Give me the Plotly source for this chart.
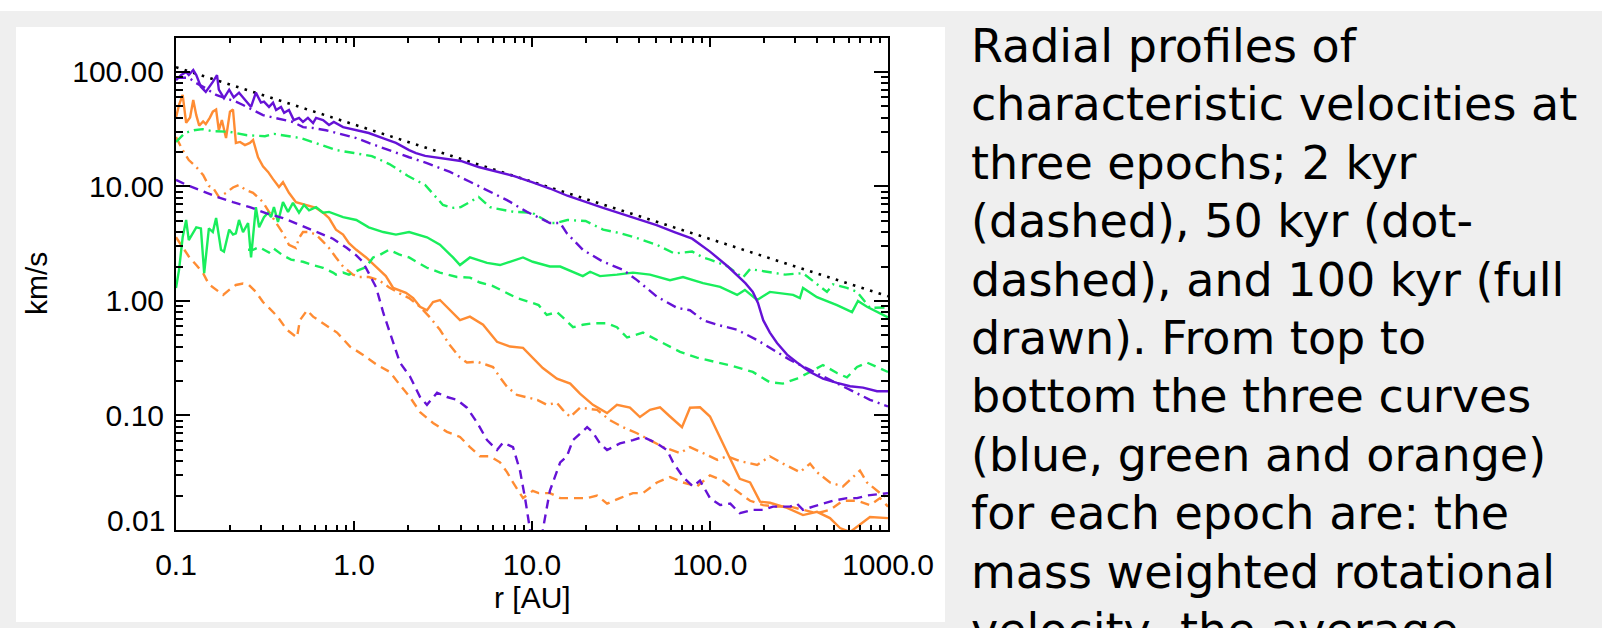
import plotly.graph_objects as go

# ---------------- data ----------------
# radius r [AU] and velocity v [km/s] for every curve
kepler_r = [0.1, 1.0, 10.0, 100.0, 1000.0]
kepler_v = [110.0, 34.8, 11.0, 3.48, 1.1]

# blue (purple) : mass weighted rotational velocity
rot100_r = [0.1, 0.107, 0.114, 0.118, 0.125, 0.130, 0.138, 0.147, 0.161, 0.170, 0.174, 0.186,
            0.199, 0.211, 0.226, 0.238, 0.247, 0.264, 0.281, 0.300, 0.312, 0.333, 0.351, 0.365,
            0.389, 0.405, 0.431, 0.459, 0.491, 0.517, 0.551, 0.589, 0.612, 0.670, 0.724, 0.770,
            0.868, 1.03, 1.21, 1.45, 1.72, 2.04, 2.23, 2.51, 3.16, 3.98, 5.01, 6.31, 7.94, 10.0,
            12.6, 15.8, 20.0, 25.1, 31.6, 39.8, 50.1, 63.1, 79.4, 100.0, 126.0, 158.0, 174.0,
            186.0, 199.0, 217.0, 238.0, 271.0, 308.0, 365.0, 431.0, 517.0, 612.0, 724.0, 868.0, 1000.0]
rot100_v = [85, 94, 100, 94, 104, 94, 74, 67, 82, 94, 70, 59,
            70, 60, 66, 60, 57, 49.5, 66, 54, 55, 49.5, 54, 46.6,
            49.5, 44, 46.6, 38, 39.7, 36.6, 39.7, 35.8, 39.7, 38, 34.4, 36.6,
            33, 31, 29.3, 26.5, 24, 20.8, 19.6, 18.5, 17.7, 16.7, 14.8, 13.4, 12.3, 10.9,
            9.6, 8.3, 7.3, 6.5, 5.8, 5.2, 4.6, 4.0, 3.5, 2.7, 2.0, 1.43, 1.2,
            0.96, 0.68, 0.53, 0.43, 0.34, 0.29, 0.24, 0.21, 0.193, 0.18, 0.175, 0.163, 0.163]

rot50_r = [0.1, 0.118, 0.130, 0.147, 0.168, 0.191, 0.217, 0.238, 0.271, 0.308, 0.351, 0.399,
           0.454, 0.517, 0.589, 0.696, 0.868, 1.03, 1.21, 1.45, 1.72, 2.04, 2.57, 3.46, 4.48,
           5.59, 7.24, 9.37, 12.6, 14.4, 15.7, 19.3, 25.1, 32.5, 38.9, 50.4, 65.3, 77.2, 91.4,
           110.0, 142.0, 184.0, 226.0, 282.0, 365.0, 472.0, 612.0, 792.0, 1000.0]
rot50_v = [89, 89, 80, 72, 63, 59, 55, 51.5, 46.6, 42, 40, 38,
           36.6, 33, 32.4, 31, 28.2, 26.5, 24, 21.7, 19.6, 18, 16, 13.4, 11,
           9.3, 7.6, 6.0, 4.8, 4.8, 3.9, 2.8, 2.2, 1.87, 1.52, 1.09, 0.87, 0.83, 0.68,
           0.62, 0.56, 0.456, 0.373, 0.305, 0.25, 0.204, 0.167, 0.137, 0.12]

rot2_r = [0.1, 0.115, 0.136, 0.170, 0.209, 0.260, 0.325, 0.399, 0.497, 0.620, 0.762, 0.913,
          1.03, 1.12, 1.21, 1.33, 1.46, 1.59, 1.81, 2.06, 2.35, 2.57, 2.93, 3.33, 3.79, 4.31,
          4.91, 5.59, 6.36, 6.87, 7.82, 8.56, 9.14, 9.75, 10.5, 11.5, 12.6, 14.4, 15.7, 17.0,
          20.4, 22.0, 24.1, 26.4, 31.2, 36.9, 42.0, 50.4, 57.3, 62.0, 70.5, 80.3, 87.9, 100.0,
          114.0, 130.0, 147.0, 174.0, 199.0, 226.0, 282.0, 308.0, 333.0, 379.0, 431.0, 491.0,
          588.0, 670.0, 762.0, 1000.0]
rot2_v = [11.4, 10.3, 9.3, 8.1, 7.3, 6.6, 5.8, 5.3, 4.6, 4.0, 3.5, 2.9,
          2.5, 2.2, 1.75, 1.32, 0.79, 0.53, 0.29, 0.22, 0.145, 0.124, 0.158, 0.145, 0.137, 0.117,
          0.087, 0.061, 0.050, 0.058, 0.053, 0.033, 0.019, 0.010, 0.006, 0.010, 0.022, 0.039, 0.044, 0.061,
          0.079, 0.071, 0.057, 0.050, 0.057, 0.061, 0.065, 0.057, 0.050, 0.039, 0.029, 0.024, 0.027, 0.019,
          0.0165, 0.017, 0.014, 0.015, 0.015, 0.016, 0.016, 0.017, 0.015, 0.016, 0.017, 0.018,
          0.019, 0.019, 0.020, 0.021]

# green : second characteristic velocity
grn100_r = [0.1, 0.104, 0.109, 0.114, 0.118, 0.125, 0.130, 0.138, 0.144, 0.153, 0.161, 0.168,
            0.179, 0.186, 0.199, 0.209, 0.217, 0.226, 0.238, 0.254, 0.264, 0.281, 0.293, 0.312,
            0.329, 0.342, 0.355, 0.374, 0.399, 0.426, 0.454, 0.491, 0.524, 0.559, 0.612, 0.670,
            0.724, 0.868, 1.03, 1.21, 1.46, 1.72, 2.04, 2.57, 3.04, 3.60, 3.94, 4.48, 5.59, 6.61,
            7.52, 8.90, 10.1, 12.6, 14.4, 17.0, 19.3, 21.2, 24.1, 30.0, 36.9, 46.0, 59.6, 70.5,
            91.4, 114.0, 142.0, 157.0, 184.0, 217.0, 293.0, 320.0, 333.0, 399.0, 517.0, 628.0,
            678.0, 762.0, 1000.0]
grn100_v = [1.3, 1.87, 3.6, 5.1, 3.4, 4.0, 4.4, 4.3, 1.75, 4.3, 4.0, 5.3,
            2.8, 2.7, 4.2, 3.8, 3.9, 5.1, 4.0, 4.8, 2.4, 6.6, 4.4, 5.4,
            5.9, 5.4, 6.6, 4.9, 7.3, 6.0, 7.2, 5.9, 6.9, 6.2, 6.6, 5.9,
            6.0, 5.4, 5.1, 4.4, 4.0, 3.8, 4.0, 3.6, 3.1, 2.4, 2.06, 2.4, 2.15, 2.06,
            2.2, 2.4, 2.2, 2.0, 2.0, 1.8, 1.65, 1.8, 1.65, 1.7, 1.77, 1.7, 1.52, 1.62,
            1.43, 1.33, 1.13, 1.25, 1.02, 1.2, 1.13, 1.06, 1.3, 1.08, 0.92, 0.80,
            1.0, 0.89, 0.72]

grn50_r = [0.1, 0.112, 0.126, 0.141, 0.158, 0.2, 0.251, 0.316, 0.355, 0.447, 0.501, 0.631,
           0.794, 1.0, 1.26, 1.58, 2.0, 2.51, 3.16, 3.55, 3.98, 4.66, 5.01, 5.81, 6.31, 7.94,
           10.0, 12.6, 13.6, 15.8, 20.0, 25.1, 31.6, 39.8, 50.1, 63.1, 79.4, 91.4, 100.0, 126.0,
           153.0, 168.0, 209.0, 264.0, 333.0, 399.0, 454.0, 491.0, 588.0, 670.0, 792.0, 1000.0]
grn50_v = [24.5, 29.3, 31, 31.7, 30.5, 30, 28, 27.5, 28.8, 27, 26.5, 23.5,
           20.8, 19.6, 18.4, 15.7, 12.4, 10.3, 6.9, 6.5, 6.6, 7.6, 8.1, 6.6, 6.4, 6.0,
           5.9, 4.8, 4.8, 5.1, 5.0, 4.2, 3.9, 3.5, 3.1, 2.6, 2.7, 2.4, 2.3, 2.0,
           1.6, 1.9, 1.8, 1.7, 1.75, 1.4, 1.2, 1.4, 1.3, 1.2, 0.87, 0.88]

grn2_r = [0.254, 0.271, 0.293, 0.333, 0.351, 0.399, 0.443, 0.517, 0.589, 0.670, 0.762, 0.792,
          0.868, 0.937, 1.07, 1.17, 1.28, 1.38, 1.57, 1.79, 2.04, 2.57, 3.04, 3.79, 4.48, 5.10,
          6.04, 7.24, 8.24, 10.1, 10.9, 12.1, 13.8, 14.9, 17.0, 19.3, 22.0, 26.4, 30.0, 34.2,
          42.0, 50.4, 57.3, 67.9, 84.5, 110.0, 135.0, 174.0, 217.0, 257.0, 308.0, 365.0, 431.0,
          517.0, 588.0, 670.0, 762.0, 1000.0]
grn2_v = [2.8, 2.8, 2.95, 2.65, 2.9, 2.5, 2.3, 2.2, 2.06, 1.95, 1.77, 1.7,
          1.77, 1.7, 1.87, 1.98, 2.4, 2.5, 2.8, 2.55, 2.4, 1.95, 1.77, 1.62, 1.6, 1.45,
          1.35, 1.17, 1.06, 0.96, 0.92, 0.755, 0.80, 0.72, 0.59, 0.62, 0.64, 0.64, 0.59, 0.48,
          0.53, 0.456, 0.41, 0.36, 0.32, 0.29, 0.27, 0.24, 0.195, 0.19, 0.21, 0.24, 0.276,
          0.235, 0.215, 0.265, 0.29, 0.24]

# orange : third characteristic velocity
org100_r = [0.1, 0.104, 0.109, 0.114, 0.120, 0.125, 0.130, 0.135, 0.142, 0.147, 0.155, 0.161,
            0.168, 0.174, 0.181, 0.191, 0.201, 0.209, 0.217, 0.229, 0.244, 0.260, 0.271, 0.289,
            0.308, 0.329, 0.351, 0.379, 0.399, 0.431, 0.472, 0.537, 0.612, 0.670, 0.724, 0.792,
            0.868, 0.937, 1.03, 1.17, 1.33, 1.51, 1.66, 1.79, 1.96, 2.15, 2.35, 2.57, 2.78, 3.04,
            3.33, 3.94, 4.48, 5.31, 6.36, 7.52, 8.90, 10.1, 11.5, 13.8, 16.4, 18.6, 22.0, 26.4,
            30.0, 35.5, 40.4, 46.0, 52.4, 59.6, 69.6, 77.2, 87.9, 100.0, 114.0, 130.0, 147.0,
            168.0, 191.0, 217.0, 271.0, 333.0, 399.0, 472.0, 538.0, 612.0, 696.0, 792.0, 1000.0]
org100_v = [40, 51.5, 63, 36, 40, 57, 42, 34, 37, 35, 40, 45,
            47, 31, 38, 26.5, 45, 47, 24, 24.5, 23, 24, 25.5, 18,
            15, 13.4, 11.6, 9.9, 10.9, 8.8, 7.3, 6.9, 6.5, 5.9, 5.3, 4.2,
            3.8, 3.2, 2.8, 2.4, 2.0, 1.65, 1.3, 1.25, 1.18, 1.06, 0.89, 0.83, 0.98, 1.02,
            0.89, 0.68, 0.73, 0.62, 0.44, 0.40, 0.39, 0.32, 0.26, 0.21, 0.19, 0.155, 0.124, 0.105,
            0.124, 0.117, 0.097, 0.112, 0.118, 0.098, 0.079, 0.117, 0.118, 0.098, 0.064, 0.041, 0.028,
            0.026, 0.0177, 0.0173, 0.0156, 0.0135, 0.0144, 0.0127, 0.0104, 0.0096, 0.0111, 0.013, 0.0127]

org50_r = [0.1, 0.109, 0.118, 0.130, 0.142, 0.153, 0.161, 0.174, 0.191, 0.209, 0.226, 0.247,
           0.271, 0.308, 0.333, 0.365, 0.399, 0.431, 0.472, 0.491, 0.517, 0.559, 0.612, 0.670,
           0.724, 0.792, 0.868, 0.987, 1.07, 1.21, 1.38, 1.57, 1.79, 2.04, 2.35, 2.67, 3.04,
           3.46, 3.94, 4.31, 4.91, 5.59, 6.04, 6.61, 7.24, 8.24, 9.37, 10.7, 12.1, 13.8, 14.9,
           16.4, 18.6, 23.2, 27.4, 32.5, 38.9, 46.0, 54.5, 67.9, 77.2, 91.4, 110.0, 125.0, 147.0,
           184.0, 217.0, 257.0, 320.0, 365.0, 399.0, 472.0, 559.0, 636.0, 696.0, 762.0, 902.0, 1000.0]
org50_v = [27, 20.8, 17, 14.8, 12.6, 10.1, 9.8, 8.1, 8.8, 9.8, 10.3, 9.3,
           8.8, 7.3, 6.0, 4.8, 3.9, 3.1, 2.9, 3.55, 4.0, 4.0, 3.8, 3.3,
           2.9, 2.4, 2.0, 1.7, 1.62, 1.62, 1.52, 1.32, 1.17, 1.06, 0.89, 0.72, 0.56,
           0.41, 0.32, 0.29, 0.295, 0.276, 0.265, 0.215, 0.178, 0.151, 0.143, 0.137, 0.124, 0.129, 0.112,
           0.097, 0.117, 0.112, 0.091, 0.079, 0.070, 0.061, 0.053, 0.047, 0.053, 0.047, 0.041, 0.044, 0.040,
           0.037, 0.044, 0.038, 0.032, 0.038, 0.032, 0.026, 0.024, 0.029, 0.033, 0.026, 0.021, 0.019]

org2_r = [0.1, 0.109, 0.118, 0.130, 0.142, 0.153, 0.168, 0.184, 0.199, 0.217, 0.238, 0.257,
          0.281, 0.308, 0.333, 0.369, 0.420, 0.478, 0.497, 0.545, 0.589, 0.670, 0.803, 0.949,
          1.12, 1.35, 1.59, 1.81, 2.06, 2.35, 2.78, 3.33, 3.94, 4.48, 5.10, 5.81, 6.61, 7.24,
          7.82, 8.90, 10.1, 10.9, 12.6, 14.4, 17.0, 20.4, 23.2, 26.4, 31.2, 36.9, 42.0, 50.4,
          59.6, 70.5, 84.5, 100.0, 118.0, 142.0, 168.0, 199.0, 238.0, 282.0, 333.0, 399.0, 472.0,
          559.0, 670.0, 792.0, 902.0, 1000.0]
org2_v = [3.6, 2.95, 2.45, 2.06, 1.75, 1.4, 1.25, 1.13, 1.25, 1.38, 1.42, 1.38,
          1.2, 0.98, 0.87, 0.74, 0.56, 0.48, 0.68, 0.83, 0.73, 0.64, 0.53, 0.40,
          0.34, 0.276, 0.24, 0.185, 0.145, 0.107, 0.086, 0.072, 0.065, 0.053, 0.044, 0.044, 0.039, 0.032,
          0.026, 0.019, 0.022, 0.021, 0.021, 0.019, 0.019, 0.019, 0.020, 0.017, 0.019, 0.021, 0.021, 0.026,
          0.029, 0.026, 0.024, 0.030, 0.027, 0.022, 0.018, 0.0165, 0.016, 0.016, 0.015, 0.014, 0.015,
          0.018, 0.018, 0.0165, 0.019, 0.016]

x_ticks = [0.1, 1.0, 10.0, 100.0, 1000.0]
x_ticktext = ["0.1", "1.0", "10.0", "100.0", "1000.0"]
y_ticks = [0.01, 0.1, 1.0, 10.0, 100.0]
y_ticktext = ["0.01", "0.10", "1.00", "10.00", "100.00"]

caption_lines = [
    "Radial profiles of",
    "characteristic velocities at",
    "three epochs; 2 kyr",
    "(dashed), 50 kyr (dot-",
    "dashed), and 100 kyr (full",
    "drawn). From top to",
    "bottom the three curves",
    "(blue, green and orange)",
    "for each epoch are: the",
    "mass weighted rotational",
    "velocity, the average",
]

# ---------------- styling / layout ----------------
W, H = 1602, 628
L, R, T, B = 176, 888, 38, 530          # plot box in pixels

def pxx(x):
    return (x - L) / (R - L)

def pxy(y):
    return (B - y) / (B - T)

PURPLE = "#6512d6"
GREEN = "#19ee5c"
ORANGE = "#ff8c33"
DASH = "9px,6px"
DASHDOT = "10px,5px,2px,5px"
LW = 2.4

series = [
    (org2_r, org2_v, ORANGE, DASH),
    (org50_r, org50_v, ORANGE, DASHDOT),
    (org100_r, org100_v, ORANGE, "solid"),
    (grn2_r, grn2_v, GREEN, DASH),
    (grn50_r, grn50_v, GREEN, DASHDOT),
    (grn100_r, grn100_v, GREEN, "solid"),
    (rot2_r, rot2_v, PURPLE, DASH),
    (rot50_r, rot50_v, PURPLE, DASHDOT),
    (rot100_r, rot100_v, PURPLE, "solid"),
]

fig = go.Figure()
fig.add_trace(go.Scatter(x=kepler_r, y=kepler_v, mode="lines",
                         line=dict(color="black", width=2.6, dash="2.6px,6.4px"),
                         hoverinfo="skip"))
for r, v, c, d in series:
    fig.add_trace(go.Scatter(x=r, y=v, mode="lines",
                             line=dict(color=c, width=LW, dash=d)))

x_minor = [d * k for d in (0.1, 1, 10, 100) for k in range(2, 10)]
y_minor = [d * k for d in (0.01, 0.1, 1, 10) for k in range(2, 10)]

tick_font = dict(family="Liberation Sans, Arial, sans-serif", size=30, color="black")
axis_common = dict(type="log", showgrid=False, zeroline=False, showline=True,
                   linecolor="black", linewidth=2, mirror="allticks",
                   ticks="inside", tickwidth=2, tickcolor="black", tickfont=tick_font)

# the lowest y label sits a little above its tick in the reference
y_ticktext_axis = [""] + y_ticktext[1:]

fig.update_layout(
    width=W, height=H,
    margin=dict(l=L, r=W - R, t=T, b=H - B, autoexpand=False),
    paper_bgcolor="#efefef", plot_bgcolor="white",
    showlegend=False,
    xaxis=dict(axis_common, range=[-1, 3], tickmode="array", tickvals=x_ticks,
               ticktext=x_ticktext, ticklen=9, ticklabelstandoff=7,
               minor=dict(tickmode="array", tickvals=x_minor, ticks="inside",
                          ticklen=5, tickwidth=1.5, tickcolor="black", showgrid=False)),
    yaxis=dict(axis_common, range=[-2, 2.2967], tickmode="array", tickvals=y_ticks,
               ticktext=y_ticktext_axis, ticklen=14, ticklabelstandoff=4,
               minor=dict(tickmode="array", tickvals=y_minor, ticks="inside",
                          ticklen=7, tickwidth=1.5, tickcolor="black", showgrid=False)),
)

# page background pieces: white top strip and white figure panel
fig.add_shape(type="rect", xref="paper", yref="paper", layer="below",
              x0=pxx(0), x1=pxx(W), y0=pxy(0), y1=pxy(11),
              fillcolor="white", line=dict(width=0))
fig.add_shape(type="rect", xref="paper", yref="paper", layer="below",
              x0=pxx(16), x1=pxx(945), y0=pxy(27), y1=pxy(622),
              fillcolor="white", line=dict(width=0))

fig.add_annotation(text=y_ticktext[0], xref="paper", yref="paper", x=pxx(167), y=pxy(520),
                   xanchor="right", yanchor="middle", showarrow=False, font=tick_font)

label_font = dict(family="Liberation Sans, Arial, sans-serif", size=30, color="black")
fig.add_annotation(text="r [AU]", xref="paper", yref="paper", x=0.5, y=pxy(597),
                   xanchor="center", yanchor="middle", showarrow=False, font=label_font)
fig.add_annotation(text="km/s", xref="paper", yref="paper", x=pxx(36), y=0.5,
                   xanchor="center", yanchor="middle", textangle=-90, showarrow=False,
                   font=label_font)

cap_font = dict(family="DejaVu Sans, Verdana, sans-serif", size=46, color="black")
for i, line in enumerate(caption_lines):
    baseline = 62 + 58.4 * i
    fig.add_annotation(text=line, xref="paper", yref="paper", x=pxx(969), y=pxy(baseline - 16),
                       xanchor="left", yanchor="middle", showarrow=False, font=cap_font)

fig.write_html("out.html", include_plotlyjs=True, full_html=True,
               config={"displayModeBar": False},
               post_script="document.body.style.margin='0';document.body.style.overflow='hidden';")
